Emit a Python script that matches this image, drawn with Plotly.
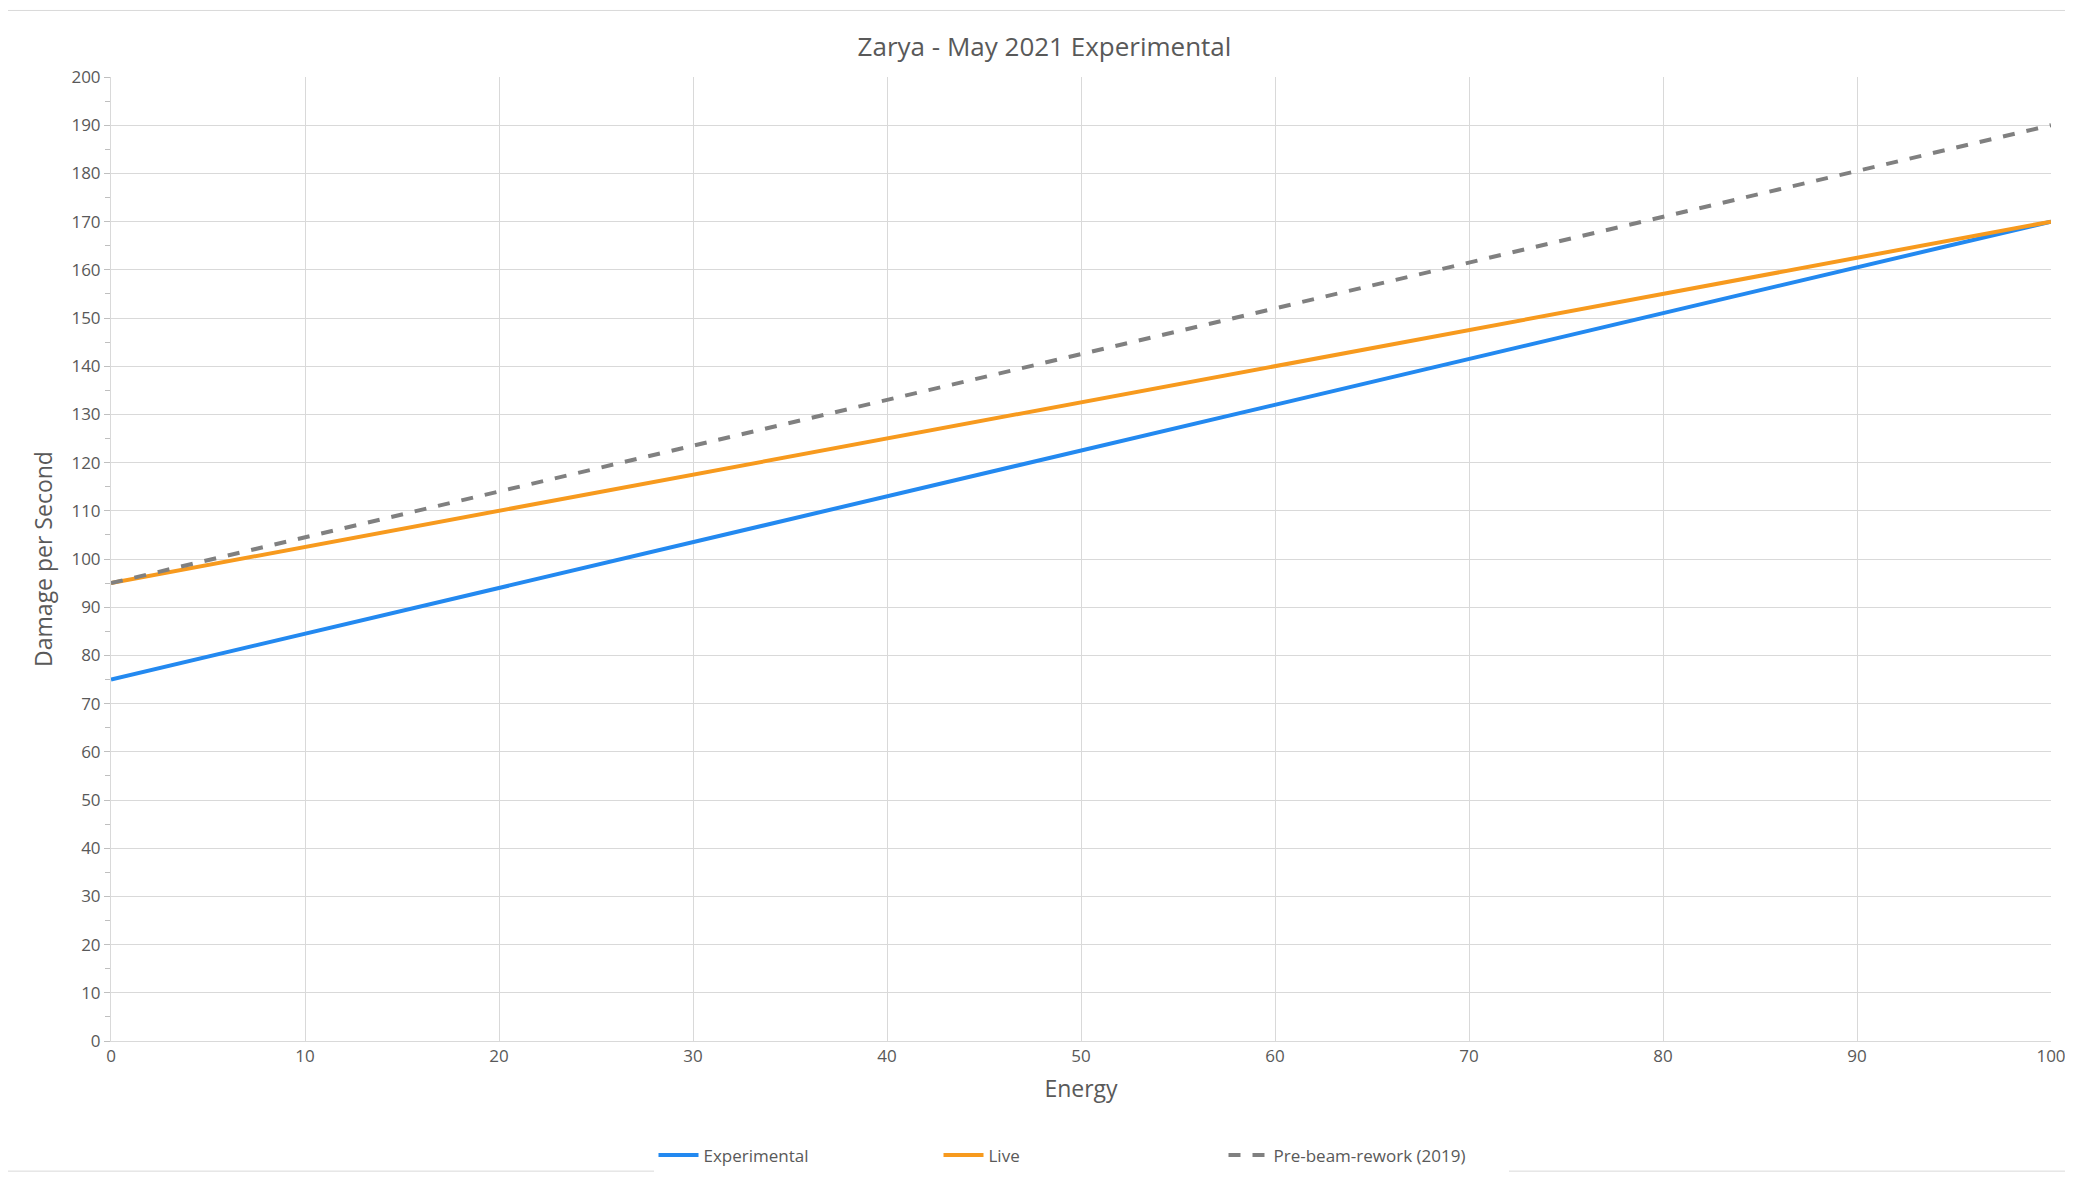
import plotly.graph_objects as go

energy = [0, 100]
experimental = [75, 170]
live = [95, 170]
pre_rework = [95, 190]

fig = go.Figure()
fig.add_trace(go.Scatter(x=energy, y=experimental, mode="lines", name="Experimental",
                         line=dict(color="#2389F0", width=4)))
fig.add_trace(go.Scatter(x=energy, y=live, mode="lines", name="Live",
                         line=dict(color="#F79A1E", width=4)))
fig.add_trace(go.Scatter(x=energy, y=pre_rework, mode="lines", name="Pre-beam-rework (2019)",
                         line=dict(color="#808080", width=4, dash="dash")))

fig.update_layout(
    width=2073, height=1177,
    paper_bgcolor="white", plot_bgcolor="white",
    font=dict(family="Open Sans", color="#595959", size=17),
    title=dict(text="Zarya - May 2021 Experimental", x=0.5, y=0.975, xanchor="center",
               font=dict(size=26, color="#595959")),
    margin=dict(l=103, r=30, t=69, b=133),
    xaxis=dict(range=[0, 100], dtick=10, showgrid=True, gridcolor="#D9D9D9",
               zeroline=False, showline=True, linecolor="#D9D9D9",
               title=dict(text="Energy", font=dict(size=23), standoff=14)),
    yaxis=dict(range=[0, 200], dtick=10, showgrid=True, gridcolor="#D9D9D9",
               zeroline=False, showline=True, linecolor="#D9D9D9",
               ticks="outside", ticklen=6, tickcolor="#BFBFBF",
               minor=dict(dtick=5, ticks="outside", ticklen=5, tickcolor="#BFBFBF", showgrid=False),
               title=dict(text="Damage per Second", font=dict(size=23), standoff=12)),
    legend=dict(orientation="h", x=0.5, xanchor="center", y=-0.1, yanchor="top",
                font=dict(size=17), itemwidth=40, entrywidth=230),
    shapes=[dict(type="rect", xref="paper", yref="paper", x0=-0.0535, x1=1.0155, y0=-0.135, y1=1.069,
                 line=dict(color="#D9D9D9", width=1))],
)
fig.write_html("out.html")
